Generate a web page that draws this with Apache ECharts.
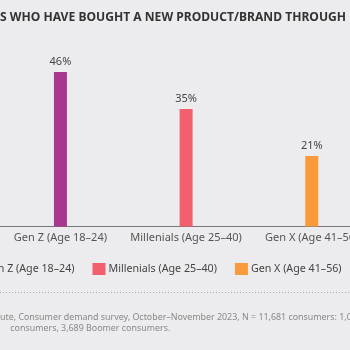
<!DOCTYPE html>
<html>
<head>
<meta charset="utf-8">
<script src="https://cdn.jsdelivr.net/npm/echarts@6/dist/echarts.min.js"></script>
<style>
  html, body { margin: 0; padding: 0; width: 350px; height: 350px; overflow: hidden; background: #ececee; }
  #chart { position: absolute; left: -150px; top: 0; width: 800px; height: 350px; }
</style>
</head>
<body>
<div id="chart"></div>
<script>
// data
var categories = ['Gen Z (Age 18–24)', 'Millenials (Age 25–40)', 'Gen X (Age 41–56)'];
var shares = [46, 35, 21];
var colors = ['#a8378f', '#f2606d', '#f99b3d'];
var titleText = 'S WHO HAVE BOUGHT A NEW PRODUCT/BRAND THROUGH';
var sourceLines = [
  'ute, Consumer demand survey, October–November 2023, N = 11,681 consumers: 1,0',
  ' consumers, 3,689 Boomer consumers.'
];

var fontName = '"Noto Sans", "Open Sans", sans-serif';
var off = 150; // container is shifted left by this much

var series = [];
for (var i = 0; i < categories.length; i++) {
  var d = [];
  for (var j = 0; j < categories.length; j++) d.push(j == i ? shares[i] : '-');
  series.push({
    name: categories[i],
    type: 'bar',
    data: d,
    barWidth: 13,
    barGap: '-100%',
    itemStyle: { color: colors[i] },
    label: {
      show: true,
      position: 'top',
      distance: 5,
      formatter: '{c}%',
      color: '#444',
      fontSize: 11,
      fontFamily: fontName
    }
  });
}

var myChart = echarts.init(document.getElementById('chart'));
myChart.setOption({
  backgroundColor: '#ececee',
  animation: false,
  textStyle: { fontFamily: fontName },
  grid: { left: off - 2.4, width: 377, top: 58.5, bottom: 123.5 },
  xAxis: {
    type: 'category',
    data: categories,
    axisLine: { lineStyle: { color: '#777', width: 1 } },
    axisTick: { show: false },
    axisLabel: { interval: 0, color: '#555', fontSize: 11, margin: 6, fontFamily: fontName }
  },
  yAxis: { type: 'value', min: 0, max: 50, show: false },
  legend: {
    data: categories,
    left: off - 37,
    top: 258,
    itemWidth: 13,
    itemHeight: 12,
    itemGap: 18,
    icon: 'rect',
    textStyle: { color: '#444', fontSize: 10.7, fontFamily: fontName, padding: [0, 0, 0, -2] }
  },
  graphic: [
    {
      type: 'text', left: off, top: 12,
      style: { text: titleText, fill: '#333', font: 'bold 12.1px ' + fontName }
    },
    {
      type: 'line', shape: { x1: off, y1: 292.5, x2: off + 350, y2: 292.5 },
      style: { stroke: '#aaa', lineWidth: 1, lineDash: [1, 2] }
    },
    {
      type: 'text', left: off, top: 313,
      style: { text: sourceLines[0], fill: '#888', font: '8.9px ' + fontName }
    },
    {
      type: 'text', left: off + 8, top: 324,
      style: { text: sourceLines[1], fill: '#888', font: '8.9px ' + fontName }
    }
  ],
  series: series
});
</script>
</body>
</html>
